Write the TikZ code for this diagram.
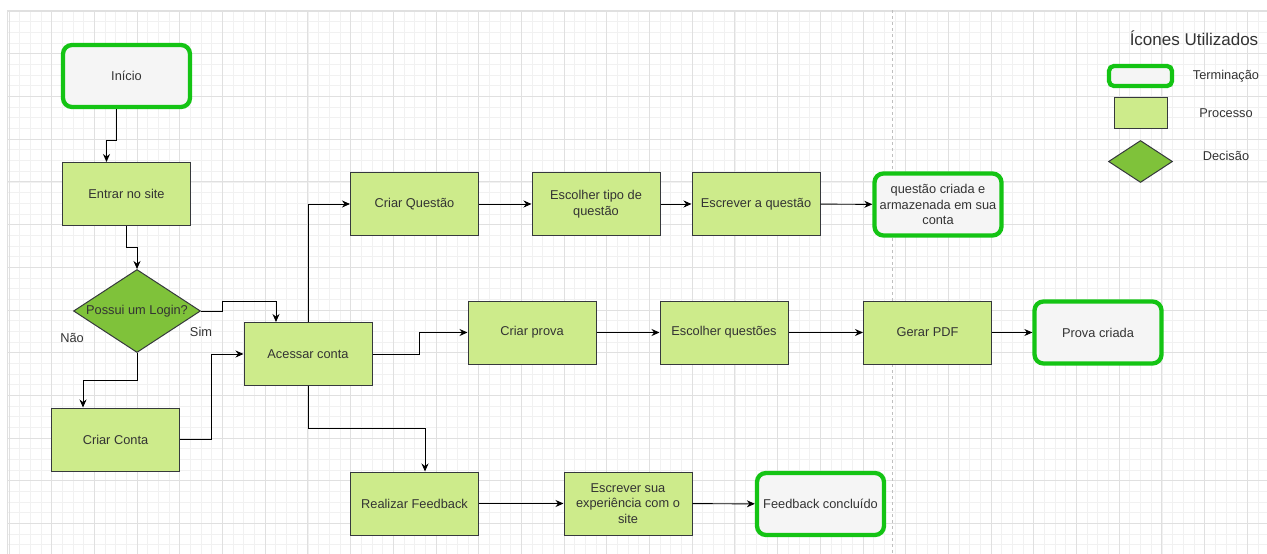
\documentclass[tikz,border=0pt]{standalone}
\usepackage{fontspec}
\setmainfont{Liberation Sans}
\usetikzlibrary{shapes.geometric,arrows.meta}
\definecolor{procfill}{HTML}{CDEB8B}
\definecolor{procline}{HTML}{36393D}
\definecolor{decfill}{HTML}{7FC23A}
\definecolor{termline}{HTML}{14C414}
\definecolor{termfill}{HTML}{F5F5F5}
\definecolor{txt}{HTML}{333333}
\definecolor{gridminor}{HTML}{F1F1F1}
\definecolor{gridmajor}{HTML}{E0E0E0}
\begin{document}
\begin{tikzpicture}[x=1pt,y=-1pt,
  base/.style={font=\fontsize{12.8}{15.5}\selectfont, text=txt, align=center, inner sep=2pt},
  proc/.style={base, draw=procline, fill=procfill, line width=1pt, minimum width=128pt, minimum height=63pt},
  term/.style={base, draw=termline, fill=termfill, line width=4.3pt, rounded corners=9pt, minimum width=127pt, minimum height=62pt},
  dec/.style={base, diamond, aspect=1.5, inner sep=0pt, draw=procline, fill=decfill, line width=1pt, minimum width=127pt, minimum height=83pt},
  arr/.style={-{Stealth[length=8pt,width=7pt]}, line width=0.95pt, black},
  lbl/.style={base}
]
\useasboundingbox (0,0) rectangle (1267,554);
\fill[white] (0,0) rectangle (1267,554);
% grid
\begin{scope}
\clip (7,10) rectangle (1267,554);
\foreach \i in {0,...,118} \draw[gridminor, line width=0.6pt] ({8.9+10.675*\i},10) -- ({8.9+10.675*\i},554);
\foreach \j in {0,...,50} \draw[gridminor, line width=0.6pt] (7,{11+10.675*\j}) -- (1267,{11+10.675*\j});
\foreach \i in {0,...,29} \draw[gridmajor, line width=0.8pt] ({8.9+42.7*\i},10) -- ({8.9+42.7*\i},554);
\foreach \j in {0,...,12} \draw[gridmajor, line width=0.8pt] (7,{11+42.7*\j}) -- (1267,{11+42.7*\j});
\end{scope}
\draw[gridmajor, line width=0.8pt] (7,10) -- (1267,10);
\draw[gridmajor, line width=0.8pt] (7,10) -- (7,554);
\draw[black!25, line width=1pt, dash pattern=on 3pt off 3pt] (892,10) -- (892,554);

% nodes
\node[term] (inicio) at (126.5,76) {Início};
\node[proc] (entrar) at (126.5,194) {Entrar no site};
\node[dec] (login) at (137,311) {Possui um Login?};
\node[proc] (criarconta) at (115.5,439.5) {Criar Conta};
\node[proc] (acessar) at (308,354) {Acessar conta};
\node[proc] (criarq) at (414.5,204) {Criar Questão};
\node[proc] (escolhertipo) at (596,204) {Escolher tipo de\\questão};
\node[proc] (escrever) at (756,204) {Escrever a questão};
\node[term] (qcriada) at (938,204.5) {questão criada e\\armazenada em sua\\conta};
\node[proc] (criarprova) at (532,332.5) {Criar prova};
\node[proc] (escolherq) at (724,332.5) {Escolher questões};
\node[proc] (gerarpdf) at (927.5,332.5) {Gerar PDF};
\node[term] (provacriada) at (1098,332.5) {Prova criada};
\node[proc] (feedback) at (414.5,503.5) {Realizar Feedback};
\node[proc] (escreverexp) at (628,503.5) {Escrever sua\\experiência com o\\site};
\node[term] (feedbackok) at (820.5,504) {Feedback concluído};

\node[lbl] (nao) at (72,338) {Não};
\node[lbl] (sim) at (201,332) {Sim};

% connectors
\draw[arr] ([xshift=-10pt]inicio.south) -- ++(0,31) -| ([xshift=-20pt]entrar.north);
\draw[arr] (entrar.south) -- ++(0,21) -| (login.north);
\draw[arr] (login.east) -- ++(21,0) -- ++(0,-10) -| ([xshift=-32pt]acessar.north);
\draw[arr] (login.south) -- ++(0,27) -| ([xshift=-32.5pt]criarconta.north);
\draw[arr] (criarconta.east) -- ++(31,0) |- (acessar.west);
\draw[arr] (acessar.north) |- (criarq.west);
\draw[arr] (criarq) -- (escolhertipo);
\draw[arr] (escolhertipo) -- (escrever);
\draw[arr] (escrever) -- (qcriada);
\draw[arr] (acessar.east) -- ++(47,0) |- (criarprova.west);
\draw[arr] (criarprova) -- (escolherq);
\draw[arr] (escolherq) -- (gerarpdf);
\draw[arr] (gerarpdf) -- (provacriada);
\draw[arr] (acessar.south) -- ++(0,42) -| ([xshift=10.5pt]feedback.north);
\draw[arr] (feedback) -- (escreverexp);
\draw[arr] (escreverexp) -- (feedbackok);

% legend
\node[base, font=\fontsize{17}{19}\selectfont] (legtitle) at (1194,38) {Ícones Utilizados};
\node[draw=termline, fill=termfill, line width=4.3pt, rounded corners=5pt, minimum width=63pt, minimum height=20pt, inner sep=0pt] (legterm) at (1140.5,76) {};
\node[lbl] (legtermtxt) at (1226,76) {Terminação};
\node[draw=procline, fill=procfill, line width=1pt, minimum width=53pt, minimum height=31pt, inner sep=0pt] (legproc) at (1141,113) {};
\node[lbl] (legproctxt) at (1226,113) {Processo};
\node[diamond, draw=procline, fill=decfill, line width=1pt, minimum width=64pt, minimum height=42pt, inner sep=0pt] (legdec) at (1140.5,161.5) {};
\node[lbl] (legdectxt) at (1226,156) {Decisão};
\end{tikzpicture}
\end{document}
